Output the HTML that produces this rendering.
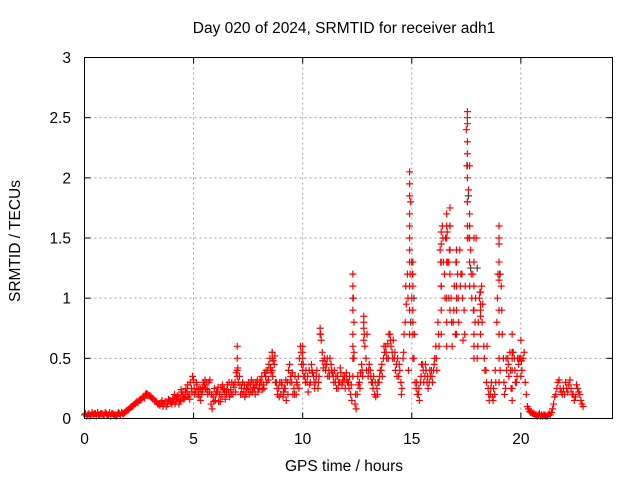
<!DOCTYPE html>
<html><head><meta charset="utf-8"><style>
body{margin:0;background:#fff}
svg{display:block;font-family:"Liberation Sans",sans-serif}
</style></head><body>
<svg id="chart" width="640" height="480">
<text x="344" y="33" font-size="15.5" text-anchor="middle">Day 020 of 2024, SRMTID for receiver adh1</text>
<text x="344" y="471" font-size="15.5" text-anchor="middle">GPS time / hours</text>
<text transform="translate(20,241) rotate(-90)" font-size="15.5" text-anchor="middle">SRMTID / TECUs</text>
<g id="grid"></g>
<g id="ticks"></g>
<g id="black"></g>
<g id="red"></g>
<rect x="84.5" y="57.5" width="528" height="361" fill="none" stroke="#000"/>
</svg>
<script>
const xTicks=[0,5,10,15,20];
const yTicks=[0,0.5,1,1.5,2,2.5,3];
const yTickLabels=["0","0.5","1","1.5","2","2.5","3"];
const baseStart=0, baseStep=0.1;
const baseValues=[
0.03,0.02,0.04,0.03,0.03,0.04,0.05,0.03,0.04,0.03,
0.04,0.03,0.02,0.04,0.03,0.03,0.04,0.05,0.04,0.06,
0.07,0.09,0.1,0.12,0.14,0.15,0.16,0.18,0.2,0.2,
0.19,0.17,0.15,0.14,0.12,0.13,0.1,0.14,0.12,0.15,
0.12,0.16,0.14,0.18,0.15,0.2,0.17,0.22,0.2,0.25,
0.32,0.22,0.2,0.25,0.22,0.28,0.3,0.3,0.12,0.18,
0.15,0.22,0.2,0.18,0.25,0.2,0.22,0.24,0.2,0.3,
0.5,0.35,0.25,0.22,0.2,0.24,0.28,0.22,0.25,0.28,
0.25,0.3,0.28,0.35,0.4,0.5,0.55,0.45,0.3,0.25,
0.2,0.18,0.25,0.3,0.45,0.3,0.25,0.2,0.35,0.6,
0.55,0.35,0.3,0.4,0.45,0.35,0.3,0.25,0.75,0.55,
0.5,0.45,0.4,0.45,0.35,0.3,0.35,0.3,0.28,0.32,
0.38,0.3,0.2,0.7,0.12,0.2,0.3,0.45,0.8,0.5,
0.35,0.4,0.3,0.2,0.25,0.3,0.4,0.5,0.6,0.62,
0.7,0.55,0.5,0.45,0.35,0.3,0.5,0.8,1.2,1.6,
1.0,0.5,0.25,0.2,0.3,0.45,0.35,0.3,0.3,0.4,
0.4,0.6,0.8,1.4,1.6,1.2,1.7,1.3,1.0,0.8,
0.7,1.2,1.4,1.2,0.9,2.4,1.9,1.4,1.2,0.8,
0.5,1.0,1.1,0.6,0.4,0.25,0.2,0.18,0.2,0.8,
1.5,1.1,0.5,0.25,0.5,0.55,0.5,0.5,0.3,0.45,
0.5,0.5,0.3,0.1,0.06,0.05,0.04,0.03,0.03,0.02,
0.02,0.03,0.02,0.04,0.05,0.12,0.2,0.3,0.25,0.2,
0.2,0.25,0.28,0.25,0.2,0.18,0.25,0.2,0.12];
const base2Start=0.05;
const baseValues2=[
0.04,0.03,0.02,0.05,0.04,0.02,0.03,0.04,0.03,0.05,
0.03,0.05,0.04,0.03,0.02,0.05,0.03,0.04,0.05,0.07,
0.08,0.1,0.11,0.13,0.13,0.16,0.17,0.17,0.21,0.19,
0.18,0.16,0.14,0.12,0.11,0.15,0.12,0.1,0.16,0.13,
0.17,0.12,0.19,0.14,0.22,0.16,0.25,0.18,0.3,0.35,
0.2,0.28,0.18,0.2,0.3,0.25,0.2,0.32,0.08,0.25,
0.22,0.14,0.26,0.24,0.16,0.28,0.18,0.3,0.26,0.38,
0.3,0.2,0.3,0.18,0.28,0.2,0.32,0.26,0.3,0.22,
0.32,0.24,0.38,0.3,0.45,0.38,0.48,0.3,0.2,0.3,
0.28,0.25,0.15,0.4,0.35,0.2,0.35,0.28,0.5,0.45,
0.35,0.4,0.22,0.3,0.38,0.25,0.4,0.35,0.65,0.42,
0.4,0.35,0.5,0.38,0.4,0.25,0.3,0.38,0.35,0.25,
0.3,0.35,0.15,0.5,0.08,0.28,0.38,0.35,0.6,0.7,
0.45,0.3,0.35,0.18,0.3,0.4,0.35,0.55,0.5,0.7,
0.6,0.65,0.4,0.5,0.4,0.25,0.7,0.95,0.4,1.8,
0.8,0.3,0.2,0.15,0.45,0.3,0.4,0.25,0.35,0.3,
0.5,0.4,0.6,1.1,1.3,1.5,1.3,1.6,0.6,1.1,
1.0,0.8,1.2,0.65,1.1,1.8,1.6,1.0,0.6,1.5,
0.8,0.7,0.95,0.4,0.6,0.15,0.3,0.25,0.3,1.2,
0.4,0.7,0.2,0.4,0.35,0.25,0.55,0.3,0.5,0.5,
0.4,0.55,0.2,0.08,0.05,0.04,0.03,0.02,0.04,0.03,
0.03,0.02,0.03,0.03,0.08,0.18,0.25,0.32,0.22,0.25,
0.3,0.22,0.32,0.2,0.15,0.28,0.22,0.15,0.1];
const base3Start=4.025;
const baseValues3=[
0.14,0.2,0.16,0.12,0.24,0.18,0.22,0.28,0.16,0.22,
0.25,0.3,0.24,0.15,0.26,0.32,0.24,0.22,0.2,0.14,
0.2,0.26,0.14,0.28,0.22,0.24,0.3,0.2,0.28,0.22,
0.42,0.28,0.2,0.28,0.25,0.3,0.22,0.3,0.2,0.32,
0.28,0.35,0.25,0.4,0.32,0.42,0.35,0.52,0.25,0.18,
0.3,0.22,0.32,0.2,0.3,0.38,0.2,0.3,0.25,0.55,
0.45,0.3,0.35,0.28,0.4,0.3,0.35,0.3,0.7,0.48,
0.45,0.5,0.35,0.4,0.3,0.35,0.25,0.42,0.3,0.35,
0.32,0.25,0.28,1.0,0.2,0.35,0.25,0.4,0.7,0.4,
0.4,0.35,0.25,0.3,0.2,0.35,0.45,0.6,0.55,0.5,
0.65,0.5,0.55,0.35,0.45,0.2,0.55,1.1,1.0,1.2,
1.2,0.7,0.3,0.25,0.35,0.4,0.45,0.35,0.4,0.35,
0.45,0.5,0.7,1.3,1.5,1.0,1.55,1.4,0.8,0.9,
1.3,1.0,1.1,1.0,0.7,2.1,1.5,1.2,0.9,1.0,
0.6,1.05,0.8,0.5,0.3,0.2,0.25,0.15,0.4,1.0,
1.2,0.9,0.3,0.5,0.45,0.4,0.55,0.4,0.35,0.5,
0.48];
const spikeTimes=[
12.3,12.3,12.3,12.3,12.3,12.3,12.3,12.35,12.35,12.8,12.8,12.8,
14.9,14.9,14.9,14.9,14.9,14.9,14.9,14.9,14.9,14.9,
15.05,15.05,15.05,15.05,15.05,15.05,
16.35,16.35,16.35,16.35,16.35,16.35,
16.6,16.6,16.6,16.6,16.6,16.6,
16.75,16.75,16.75,16.75,16.75,
17.05,17.05,17.05,17.05,17.05,
17.55,17.55,17.55,17.55,17.55,17.55,17.55,17.55,17.55,17.55,
17.65,17.65,17.65,17.65,17.65,
17.85,17.85,17.85,17.85,17.85,17.85,
18.15,18.15,18.15,18.15,
19.0,19.0,19.0,19.0,19.0,19.0,19.0,19.0,
19.6,19.6,19.6,19.6,19.6,
20.0,20.0,20.0,
8.6,8.6,8.6,10.0,10.0,10.0,7.0,7.0,7.0];
const spikeValues=[
0.9,1.0,1.1,1.2,0.6,0.5,0.35,0.8,0.55,0.85,0.75,0.65,
2.05,1.95,1.85,1.7,1.5,1.4,1.3,1.1,0.9,0.7,
1.3,1.2,1.1,0.9,0.7,0.5,
1.55,1.45,1.3,1.1,0.9,0.7,
1.6,1.5,1.3,1.0,0.8,0.6,
1.75,1.6,1.4,1.2,0.9,
1.4,1.3,1.1,0.9,0.7,
2.55,2.5,2.45,2.3,2.2,2.1,2.0,1.8,1.6,1.5,
2.1,1.7,1.5,1.3,1.1,
1.5,1.3,1.1,0.9,0.7,0.5,
1.05,0.95,0.9,0.85,
1.6,1.45,1.3,1.15,0.9,0.7,0.5,0.3,
0.7,0.55,0.4,0.25,0.15,
0.65,0.5,0.35,
0.4,0.5,0.55,0.4,0.5,0.6,0.6,0.4,0.35];
const blackTimes=[15.0,14.95,17.6,17.7,16.7,18.0,10.8,15.1,19.05];
const blackValues=[1.3,0.8,1.85,1.25,1.0,1.25,0.7,1.0,1.2];

const X0=84.5,X1=612.5,Y0=418.5,Y1=57.5,XMAX=24.2,YMAX=3;
const sx=t=>X0+(X1-X0)*t/XMAX;
const sy=v=>Y0-(Y0-Y1)*v/YMAX;
const NS="http://www.w3.org/2000/svg";
function mk(tag,attrs,parent){const e=document.createElementNS(NS,tag);for(const k in attrs)e.setAttribute(k,attrs[k]);parent.appendChild(e);return e;}
const grid=document.getElementById('grid'),ticks=document.getElementById('ticks');
xTicks.forEach(t=>{
  const x=sx(t);
  if(t>0){const g=mk('line',{x1:x,x2:x,y1:Y1,y2:Y0,stroke:'#a0a0a0','stroke-dasharray':'2,3'},grid);
  
  }
  mk('line',{x1:x,x2:x,y1:Y0,y2:Y0-6,stroke:'#000'},ticks);
  mk('line',{x1:x,x2:x,y1:Y1,y2:Y1+6,stroke:'#000'},ticks);
  const l=mk('text',{x:x,y:444,'font-size':15.5,'text-anchor':'middle'},ticks);
  l.textContent=t;
  
  
});
yTicks.forEach((v,i)=>{
  const y=sy(v);
  if(v>0&&v<YMAX){const g=mk('line',{x1:X0,x2:X1,y1:y,y2:y,stroke:'#a0a0a0','stroke-dasharray':'2,3'},grid);
  
  }
  mk('line',{x1:X0,x2:X0+6,y1:y,y2:y,stroke:'#000'},ticks);
  mk('line',{x1:X1,x2:X1-6,y1:y,y2:y,stroke:'#000'},ticks);
  const l=mk('text',{x:71,y:y+5.5,'font-size':15.5,'text-anchor':'end'},ticks);
  l.textContent=yTickLabels[i];
  
  
});
function cross(parent,t,v,color){
  const x=sx(t),y=sy(v);
  const p=mk('path',{d:`M${x-3.5},${y}H${x+3.5}M${x},${y-3.5}V${y+3.5}`,stroke:color,'stroke-width':1.2,fill:'none'},parent);
  
  
}
const red=document.getElementById('red'),black=document.getElementById('black');
blackTimes.forEach((t,i)=>cross(black,t,blackValues[i],'#404040'));
baseValues.forEach((v,i)=>cross(red,baseStart+i*baseStep,v,'#ff0000'));
baseValues2.forEach((v,i)=>cross(red,base2Start+i*baseStep,v,'#ff0000'));
baseValues3.forEach((v,i)=>cross(red,base3Start+i*baseStep,v,'#ff0000'));
spikeTimes.forEach((t,i)=>cross(red,t,spikeValues[i],'#ff0000'));
</script>
</body></html>
